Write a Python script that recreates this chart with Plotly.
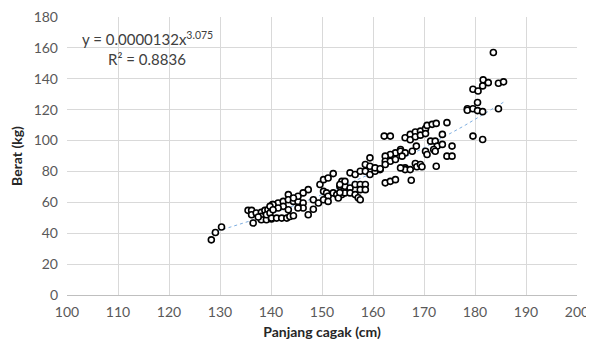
import numpy as np
import plotly.graph_objects as go

# Data
panjang = [128.3, 129.1, 130.3,
           135.5, 136.2, 136.2, 136.5, 137.1, 138.1, 138.8, 139.4, 140.1, 140.3, 138.1, 138.1, 139.1, 140.1, 137.5, 139.1, 139.8,
           141.4, 140.4, 139.8, 142.4, 143.4, 143.4, 144.4, 145.3, 146.3, 146.3, 145.3, 142.4, 141.4, 140.4, 143.4, 147.3, 146.3,
           145.3, 144.4, 148.3, 140.1, 141.1, 142.1, 143.1, 143.7, 144.4, 147.3, 148.3, 149.3,
           149.6, 150.3, 151.2, 152.2, 153.5, 153.9, 154.2, 153.9, 150.3, 150.9, 151.2, 150.3, 151.2, 152.2, 152.9, 153.2,
           154.5, 155.5, 156.5, 157.5, 158.5, 157.5, 158.5, 154.5, 155.5, 156.5, 157.1, 153.5, 154.5, 153.5, 155.5, 156.5,
           157.5, 158.5, 159.4, 160.4, 161.4, 158.5, 159.4, 160.4, 161.4, 159.4, 157.5,
           162.2, 163.4, 165.4, 164.4, 163.4, 162.4, 162.4, 163.4, 164.4, 162.4, 166.3, 162.4, 163.4, 164.4, 165.4, 166.3,
           167.7, 168.5, 165.7, 166.3, 167.3, 168.3, 168.6, 169.3, 169.6, 167.5, 165.4, 166.3, 167.3, 168.3, 169.3, 170.3,
           170.6, 171.6, 172.4, 174.5, 173.6, 167.3, 168.3, 169.3, 170.3,
           170.3, 170.6, 171.3, 172.2, 172.6, 173.6, 171.9, 172.2, 174.5, 175.5, 175.5, 172.4,
           183.6, 181.6, 182.6, 184.6, 185.6, 179.6, 180.6, 181.5, 180.5, 178.5, 178.5, 179.6, 180.5, 181.5, 184.6, 179.6, 181.5]
berat = [35.7, 40.5, 44.0,
         54.8, 54.8, 52.0, 46.6, 53.1, 53.5, 54.8, 55.2, 56.3, 58.5, 50.9, 48.7, 48.7, 49.2, 50.5, 52.0, 53.1,
         59.6, 58.5, 57.4, 60.6, 65.0, 61.7, 60.6, 60.6, 59.6, 56.3, 56.3, 57.4, 56.3, 55.2, 55.2, 68.2, 66.1,
         63.9, 62.8, 61.7, 49.8, 49.8, 49.8, 49.8, 50.8, 51.3, 52.0, 55.5, 59.6,
         71.5, 74.7, 75.8, 78.6, 70.4, 73.6, 67.1, 65.0, 67.1, 66.1, 63.9, 61.7, 60.6, 66.1, 65.0, 62.8,
         70.4, 69.3, 71.5, 71.5, 71.5, 68.2, 68.2, 66.1, 66.1, 65.0, 63.0, 66.3, 73.6, 71.5, 79.1, 78.0,
         80.1, 80.1, 78.0, 80.1, 81.2, 84.5, 83.4, 82.3, 81.7, 88.8, 61.7,
         102.9, 102.9, 94.2, 92.0, 91.0, 89.9, 86.6, 86.6, 87.7, 84.5, 82.3, 72.6, 73.6, 74.7, 93.1, 92.0,
         93.1, 96.4, 89.9, 81.2, 81.2, 85.1, 83.0, 84.5, 83.0, 74.3, 82.3, 101.8, 104.0, 105.5, 106.1, 107.7,
         109.8, 110.5, 111.1, 111.6, 104.0, 100.5, 102.5, 103.5, 104.5,
         93.1, 91.0, 99.6, 99.6, 96.4, 97.5, 94.2, 93.1, 89.9, 89.9, 96.4, 83.4,
         157.0, 139.3, 137.5, 137.1, 138.0, 133.2, 132.1, 135.4, 124.6, 120.6, 119.6, 120.6, 119.4, 118.7, 120.6, 102.9, 100.7]

coef_a = 0.0000132
coef_b = 3.075
x_ticks = list(range(100, 201, 10))
y_ticks = list(range(0, 181, 20))

xs = np.linspace(min(panjang), max(panjang), 100)
ys = coef_a * xs ** coef_b

FONT = "Lato"
# page has an 8px body margin, so figure is sized/offset accordingly
OFF = 8
W, H = 586, 341
L, R, T, B = 59, 17, 9, 54
pw, ph = W - L - R, H - T - B

def paper_x(screen_x):
    return (screen_x - OFF - L) / pw

def paper_y(screen_y):
    return (H - B - (screen_y - OFF)) / ph

fig = go.Figure()
fig.add_trace(go.Scatter(x=xs, y=ys, mode="lines",
                         line=dict(color="#7eaee0", width=1, dash="dot"),
                         hoverinfo="skip", showlegend=False))
fig.add_trace(go.Scatter(x=panjang, y=berat, mode="markers",
                         marker=dict(symbol="circle", size=6, color="white",
                                     line=dict(color="black", width=1.6)),
                         showlegend=False))

fig.add_annotation(x=paper_x(80), y=paper_y(39), xref="paper", yref="paper", xanchor="left", yanchor="middle",
                   text="y = 0.0000132x<sup>3.075</sup>", showarrow=False,
                   font=dict(family=FONT, size=15, color="#404040"))
fig.add_annotation(x=paper_x(106), y=paper_y(59), xref="paper", yref="paper", xanchor="left", yanchor="middle",
                   text="R² = 0.8836", showarrow=False,
                   font=dict(family=FONT, size=15, color="#404040"))

fig.update_layout(
    width=W, height=H,
    margin=dict(l=L, r=R, t=T, b=B, autoexpand=False),
    paper_bgcolor="white", plot_bgcolor="white",
    font=dict(family=FONT, size=14, color="#595959"),
    xaxis=dict(range=[100, 200], tickvals=x_ticks, showgrid=True, gridcolor="#d9d9d9", gridwidth=1,
               zeroline=False, showline=True, linecolor="#bfbfbf", linewidth=1, ticks="",
               ticklabelstandoff=4, automargin=False, ticklabeloverflow="allow",
               title=dict(text="<b>Panjang cagak (cm)</b>", font=dict(family=FONT, size=14, color="#262626"), standoff=8)),
    yaxis=dict(range=[0, 180], tickvals=y_ticks, showgrid=True, gridcolor="#d9d9d9", gridwidth=1,
               zeroline=False, showline=False, ticks="", ticklabelstandoff=8, automargin=False,
               ticklabeloverflow="allow",
               title=dict(text="<b>Berat (kg)</b>", font=dict(family=FONT, size=14, color="#262626"), standoff=14)),
)

fig.write_html("out.html")
